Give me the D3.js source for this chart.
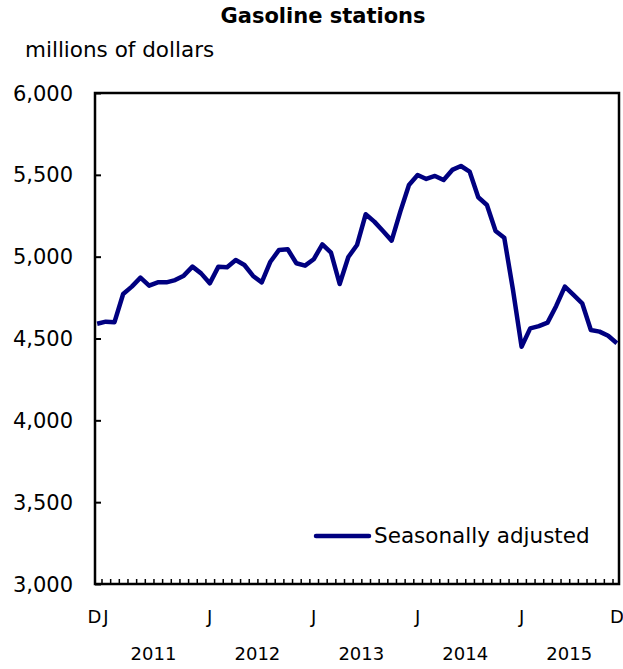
<!DOCTYPE html>
<html>
<head>
<meta charset="utf-8">
<script src="https://cdn.jsdelivr.net/npm/d3@7"></script>
<style>
  body { margin: 0; background: #fff; }
  svg { font-family: Verdana, "DejaVu Sans", sans-serif; }
  .axis path, .axis line { stroke: #000; }
</style>
</head>
<body>
<svg width="623" height="669"></svg>
<script>
/*global d3*/

var periods = [
    "2010-12",
    "2011-01", "2011-02", "2011-03", "2011-04", "2011-05", "2011-06",
    "2011-07", "2011-08", "2011-09", "2011-10", "2011-11", "2011-12",
    "2012-01", "2012-02", "2012-03", "2012-04", "2012-05", "2012-06",
    "2012-07", "2012-08", "2012-09", "2012-10", "2012-11", "2012-12",
    "2013-01", "2013-02", "2013-03", "2013-04", "2013-05", "2013-06",
    "2013-07", "2013-08", "2013-09", "2013-10", "2013-11", "2013-12",
    "2014-01", "2014-02", "2014-03", "2014-04", "2014-05", "2014-06",
    "2014-07", "2014-08", "2014-09", "2014-10", "2014-11", "2014-12",
    "2015-01", "2015-02", "2015-03", "2015-04", "2015-05", "2015-06",
    "2015-07", "2015-08", "2015-09", "2015-10", "2015-11", "2015-12"
];

// seasonally adjusted sales, millions of dollars
var seasonallyAdjusted = [
    4590,
    4603, 4600, 4772, 4817, 4872, 4823, 4843, 4843, 4857, 4884, 4939, 4898,
    4837, 4939, 4935, 4980, 4949, 4882, 4843, 4969, 5041, 5045, 4960, 4945,
    4984, 5075, 5024, 4833, 4998, 5071, 5259, 5214, 5157, 5098, 5275, 5438,
    5499, 5475, 5493, 5468, 5530, 5554, 5520, 5363, 5316, 5157, 5116, 4800,
    4450, 4562, 4576, 4597, 4699, 4817, 4766, 4715, 4552, 4542, 4517, 4471
];

var yTicks = [3000, 3500, 4000, 4500, 5000, 5500, 6000];
var monthLabels = [
    {i: 1, t: "J"}, {i: 13, t: "J"}, {i: 25, t: "J"},
    {i: 37, t: "J"}, {i: 49, t: "J"}, {i: 60, t: "D"}
];
var years = ["2011", "2012", "2013", "2014", "2015"];

var svg = d3.select("svg"),
    margin = {top: 93, right: 4, bottom: 85, left: 95},
    width = +svg.attr("width") - margin.left - margin.right,
    height = +svg.attr("height") - margin.top - margin.bottom;

var x = d3.scaleLinear().domain([-0.25, periods.length - 0.75]).range([0, width]),
    y = d3.scaleLinear().domain([3000, 6000]).range([height, 0]);

var g = svg.append("g")
    .attr("transform", "translate(" + margin.left + "," + margin.top + ")");

svg.append("text")
    .attr("x", 323)
    .attr("y", 23)
    .attr("text-anchor", "middle")
    .style("font-size", "21px")
    .style("font-weight", "bold")
    .text("Gasoline stations");

svg.append("text")
    .attr("x", 25)
    .attr("y", 57)
    .style("font-size", "21.5px")
    .text("millions of dollars");

// y axis: small ticks pointing into the plot
g.append("g")
    .attr("class", "axis axis--y")
    .call(d3.axisRight(y).tickValues(yTicks).tickSize(6).tickFormat(""))
    .call(function (s) { s.select(".domain").remove(); })
    .selectAll("line").attr("stroke-width", 2);

g.selectAll(".ylabel")
    .data(yTicks)
    .enter().append("text")
    .attr("class", "ylabel")
    .attr("x", -22)
    .attr("y", function (d) { return y(d); })
    .attr("dy", "0.36em")
    .attr("text-anchor", "end")
    .style("font-size", "21px")
    .text(d3.format(","));

// month ticks along the bottom, on the boundaries between months
var monthBounds = d3.range(periods.length - 1).map(function (i) { return i + 0.5; });

g.append("g")
    .attr("class", "axis axis--x")
    .attr("transform", "translate(0," + height + ")")
    .call(d3.axisTop(x).tickValues(monthBounds).tickSize(5).tickFormat(""))
    .call(function (s) { s.select(".domain").remove(); })
    .selectAll("line").attr("stroke-width", 1.5);

// frame
g.append("rect")
    .attr("width", width)
    .attr("height", height)
    .attr("fill", "none")
    .attr("stroke", "#000")
    .attr("stroke-width", 2.5);

svg.append("text")
    .attr("x", margin.left + x(0.5))
    .attr("y", 623)
    .attr("text-anchor", "end")
    .style("font-size", "18px")
    .text("D");

svg.selectAll(".mlabel")
    .data(monthLabels)
    .enter().append("text")
    .attr("class", "mlabel")
    .attr("x", function (d) { return margin.left + x(d.i); })
    .attr("y", 623)
    .attr("text-anchor", "middle")
    .style("font-size", "18px")
    .text(function (d) { return d.t; });

svg.selectAll(".year")
    .data(years)
    .enter().append("text")
    .attr("class", "year")
    .attr("x", function (d, i) { return margin.left + x(1 + i * 12 + 5.5); })
    .attr("y", 660)
    .attr("text-anchor", "middle")
    .style("font-size", "18px")
    .text(function (d) { return d; });

var line = d3.line()
    .x(function (d, i) { return x(i); })
    .y(function (d) { return y(d); });

g.append("path")
    .datum(seasonallyAdjusted)
    .attr("fill", "none")
    .attr("stroke", "#000080")
    .attr("stroke-width", 4.5)
    .attr("stroke-linejoin", "round")
    .attr("d", line);

// legend
svg.append("line")
    .attr("x1", 316)
    .attr("x2", 369)
    .attr("y1", 536)
    .attr("y2", 536)
    .attr("stroke", "#000080")
    .attr("stroke-width", 4.5)
    .attr("stroke-linecap", "round");

svg.append("text")
    .attr("x", 374)
    .attr("y", 543)
    .style("font-size", "21.5px")
    .text("Seasonally adjusted");
</script>
</body>
</html>
